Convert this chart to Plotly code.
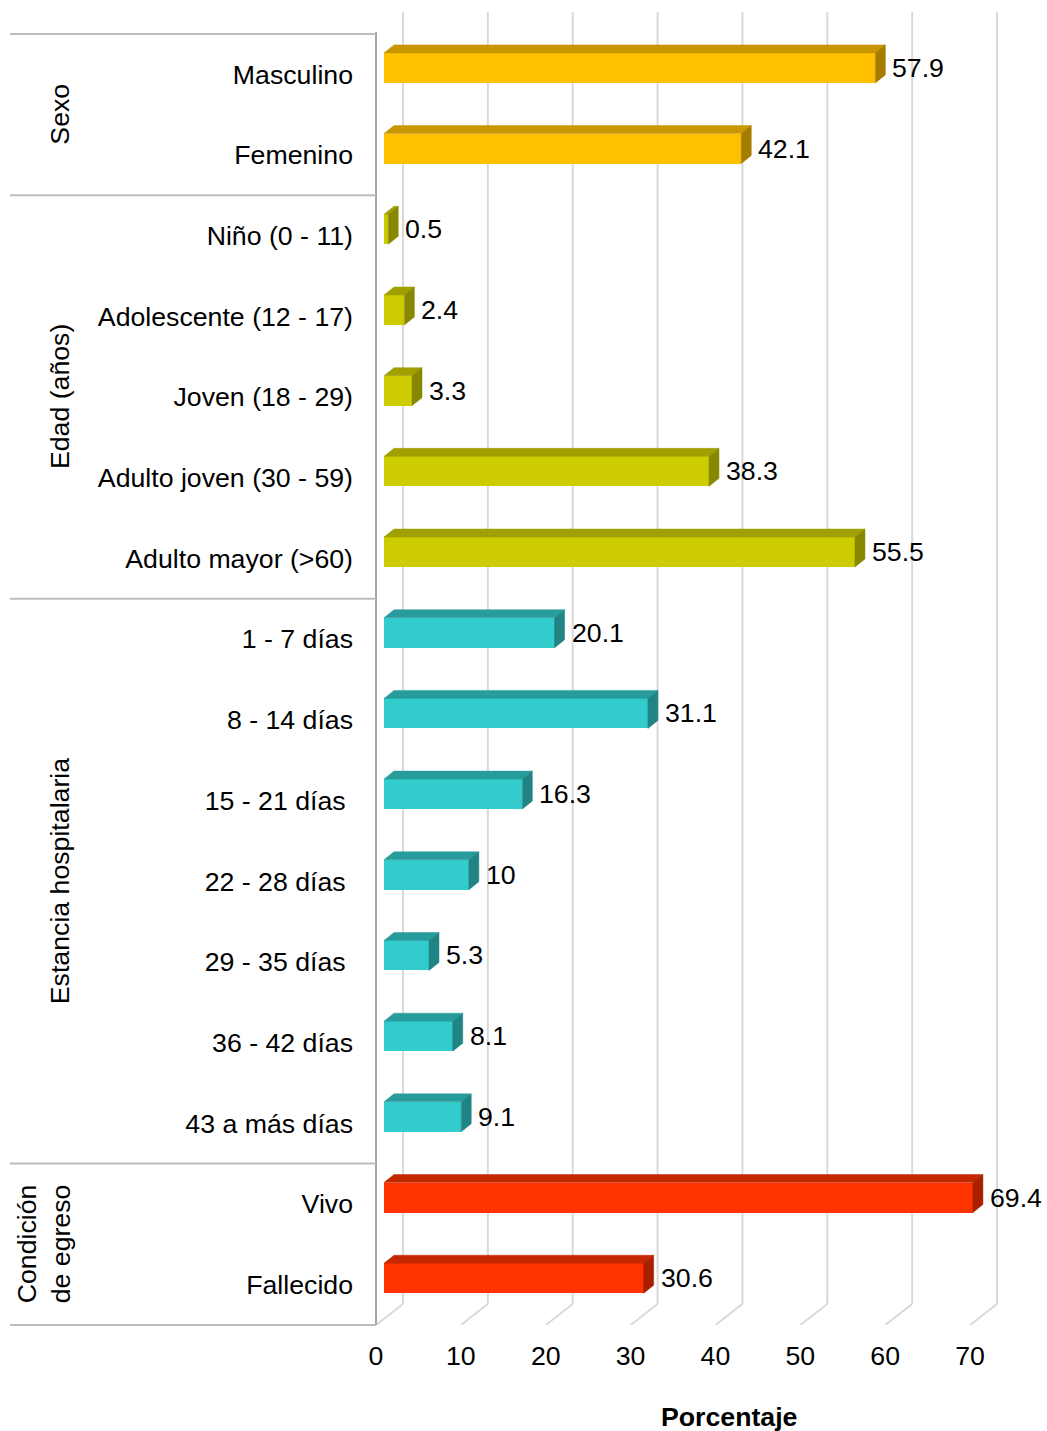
import plotly.graph_objects as go

# ---- data -------------------------------------------------------------
categorias = [
    "Masculino", "Femenino",
    "Niño (0 - 11)", "Adolescente (12 - 17)", "Joven (18 - 29)",
    "Adulto joven (30 - 59)", "Adulto mayor (>60)",
    "1 - 7 días", "8 - 14 días", "15 - 21 días\u00a0", "22 - 28 días\u00a0",
    "29 - 35 días\u00a0", "36 - 42 días", "43 a más días",
    "Vivo", "Fallecido",
]
porcentajes = [57.9, 42.1, 0.5, 2.4, 3.3, 38.3, 55.5,
               20.1, 31.1, 16.3, 10, 5.3, 8.1, 9.1, 69.4, 30.6]
grupos = ["Sexo", "Edad (años)", "Estancia hospitalaria", "Condición<br>de egreso"]
filas_por_grupo = [2, 5, 7, 2]
x_ticks = [0, 10, 20, 30, 40, 50, 60, 70]
titulo_x = "Porcentaje"

# ---- styling ----------------------------------------------------------
# (front, top, side) shades of each group's 3-D bars
paletas = [
    ("#FFC000", "#C89600", "#A67C00"),
    ("#CCCC00", "#A0A000", "#888800"),
    ("#33CCCC", "#289C9C", "#208484"),
    ("#FF3300", "#C42800", "#A82000"),
]
FONT = "Liberation Sans, Arial, sans-serif"
FS = 26.7

W, H = 1047, 1431
PLOT_L, PLOT_T, PLOT_B = 376, 10, 1325
PX_PER_UNIT = 8.486          # pixels per percentage point
ROW_PX = 80.69               # pixels per category row
FIRST_ROW_PX = 74.3          # pixel centre of the first row

x_range = [0, (W - PLOT_L) / PX_PER_UNIT]
y_bottom = (PLOT_B - FIRST_ROW_PX) / ROW_PX
y_top = (PLOT_T - FIRST_ROW_PX) / ROW_PX

# depth offsets of the pseudo-3D look, in data units
bar_base = 8 / PX_PER_UNIT
bar_dx, bar_dy = 10 / PX_PER_UNIT, 8 / ROW_PX
wall_dx, wall_dy = 27 / PX_PER_UNIT, 21 / ROW_PX
wall_top = (12 - FIRST_ROW_PX) / ROW_PX
bar_h = 30 / ROW_PX
bar_lift = 6.4 / ROW_PX


def xp(px):
    return (px - PLOT_L) / (W - PLOT_L)


def yp_data(y):
    return (y_bottom - y) / (y_bottom - y_top)


def yp_px(py):
    return (PLOT_B - py) / (PLOT_B - PLOT_T)


grupo_de_fila = []
for g, n in enumerate(filas_por_grupo):
    grupo_de_fila += [g] * n

fig = go.Figure()

# floor and back-wall gridlines
shapes = []
for t in x_ticks:
    shapes.append(dict(type="line", xref="x", yref="y", layer="below",
                       x0=t, y0=y_bottom, x1=t + wall_dx, y1=y_bottom - wall_dy,
                       line=dict(color="#d9d9d9", width=2)))
    shapes.append(dict(type="line", xref="x", yref="y", layer="below",
                       x0=t + wall_dx, y0=y_bottom - wall_dy, x1=t + wall_dx, y1=wall_top,
                       line=dict(color="#d9d9d9", width=2)))

# category axis line
shapes.append(dict(type="line", xref="paper", yref="paper",
                   x0=0, x1=0, y0=yp_px(32), y1=0,
                   line=dict(color="#a6a6a6", width=2)))

# group separators in the label column
limites = [-0.5]
for n in filas_por_grupo:
    limites.append(limites[-1] + n)
for b in limites:
    shapes.append(dict(type="line", xref="paper", yref="paper",
                       x0=xp(10), x1=0, y0=yp_data(b), y1=yp_data(b),
                       line=dict(color="#bcbcbc", width=2)))

# bar faces
yc = [i - bar_lift for i in range(len(categorias))]
for g in range(len(grupos)):
    tx, ty, sx, sy = [], [], [], []
    for i, v in enumerate(porcentajes):
        if grupo_de_fila[i] != g:
            continue
        y0 = yc[i] - bar_h / 2
        y1 = yc[i] + bar_h / 2
        xe = bar_base + v
        tx += [bar_base, xe, xe + bar_dx, bar_base + bar_dx, bar_base, None]
        ty += [y0, y0, y0 - bar_dy, y0 - bar_dy, y0, None]
        sx += [xe, xe, xe + bar_dx, xe + bar_dx, xe, None]
        sy += [y0, y1, y1 - bar_dy, y0 - bar_dy, y0, None]
    fig.add_trace(go.Scatter(x=tx, y=ty, mode="lines", fill="toself",
                             fillcolor=paletas[g][1], line=dict(width=0.5, color=paletas[g][1]),
                             hoverinfo="skip", showlegend=False))
    fig.add_trace(go.Scatter(x=sx, y=sy, mode="lines", fill="toself",
                             fillcolor=paletas[g][2], line=dict(width=0.5, color=paletas[g][2]),
                             hoverinfo="skip", showlegend=False))

fig.add_trace(go.Bar(
    x=porcentajes, y=yc, base=bar_base, orientation="h", width=bar_h,
    marker=dict(color=[paletas[g][0] for g in grupo_de_fila], line=dict(width=0)),
    showlegend=False, hovertext=categorias,
))

annotations = []
# value labels
for i, v in enumerate(porcentajes):
    annotations.append(dict(xref="x", yref="y", x=bar_base + v + bar_dx, y=yc[i],
                            text=f"{v:g}", showarrow=False, xanchor="left", yanchor="middle",
                            xshift=5, font=dict(size=FS, color="#000000", family=FONT)))

# group titles
inicio = 0
for g, n in enumerate(filas_por_grupo):
    centro = inicio + (n - 1) / 2
    px_x = 44 if "<br>" in grupos[g] else 60
    annotations.append(dict(xref="paper", yref="paper", x=xp(px_x), y=yp_data(centro),
                            text=grupos[g], textangle=-90, showarrow=False,
                            xanchor="center", yanchor="middle",
                            font=dict(size=FS, color="#000000", family=FONT)))
    inicio += n

annotations.append(dict(xref="paper", yref="paper", x=xp(729), y=yp_px(1417),
                        text=f"<b>{titulo_x}</b>", showarrow=False,
                        xanchor="center", yanchor="middle",
                        font=dict(size=FS, color="#000000", family=FONT)))

fig.update_layout(
    width=W, height=H,
    margin=dict(l=PLOT_L, r=0, t=PLOT_T, b=H - PLOT_B),
    paper_bgcolor="white", plot_bgcolor="white",
    shapes=shapes, annotations=annotations,
    font=dict(family=FONT, size=FS, color="#000000"),
    bargap=0,
    xaxis=dict(range=x_range, tickvals=x_ticks, ticktext=[str(t) for t in x_ticks],
               showgrid=False, zeroline=False, showline=False, ticks="",
               ticklabelstandoff=12, fixedrange=True),
    yaxis=dict(range=[y_bottom, y_top], tickvals=list(range(len(categorias))),
               ticktext=categorias, showgrid=False, zeroline=False, showline=False,
               ticks="", ticklabelstandoff=22, fixedrange=True),
)

fig.write_html("out.html")
